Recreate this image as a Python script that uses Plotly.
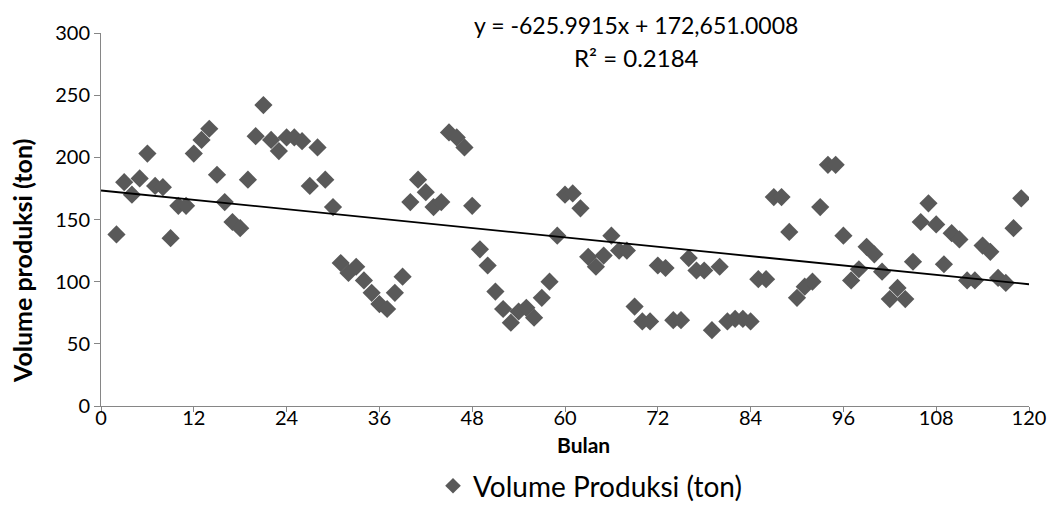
import numpy as np
import plotly.graph_objects as go

bulan = list(range(2, 120))
volume = [138, 180, 170, 183, 203, 177, 176, 135, 161, 161, 203, 214, 223, 186, 164, 148, 143, 182,
          217, 242, 214, 205, 216, 216, 213, 177, 208, 182, 160, 115, 107, 112, 101, 91, 82, 78, 91,
          104, 164, 182, 172, 160, 164, 220, 216, 208, 161, 126, 113, 92, 78, 67, 76, 79, 71, 87,
          100, 137, 170, 171, 159, 120, 112, 121, 137, 125, 125, 80, 68, 68, 113, 111, 69, 69, 119,
          109, 109, 61, 112, 68, 70, 70, 68, 102, 102, 168, 168, 140, 87, 96, 100, 160, 194, 194,
          137, 101, 110, 128, 122, 108, 86, 95, 86, 116, 148, 163, 146, 114, 139, 134, 101, 101,
          129, 124, 103, 99, 143, 167]
x_ticks = [0, 12, 24, 36, 48, 60, 72, 84, 96, 108, 120]
y_ticks = [0, 50, 100, 150, 200, 250, 300]
eq_line1 = "y = -625.9915x + 172,651.0008"
eq_line2 = "R² = 0.2184"

slope, intercept = np.polyfit(bulan, volume, 1)
trend_x = [0, 120]
trend_y = [intercept + slope * v for v in trend_x]

FONT = "Lato, 'Open Sans', sans-serif"

fig = go.Figure()
fig.add_trace(go.Scatter(
    x=bulan, y=volume, mode="markers", name="Volume Produksi (ton)",
    marker=dict(symbol="diamond", size=14, color="#595959"),
))
fig.add_trace(go.Scatter(
    x=trend_x, y=trend_y, mode="lines", showlegend=False,
    line=dict(color="black", width=1.8),
))

def ann(text, x, y, size, bold=False, angle=0):
    return dict(text=f"<b>{text}</b>" if bold else text, xref="paper", yref="paper",
                x=x, y=y, xanchor="center", yanchor="middle", showarrow=False,
                textangle=angle, font=dict(size=size, family=FONT, color="black"))

# paper coords: plot area x 101..1029, y 406..33
def px(xp):
    return (xp - 101) / 928.0

def py(yp):
    return (406 - yp) / 373.0

fig.update_layout(
    width=1054, height=515,
    margin=dict(l=101, r=25, t=33, b=109, autoexpand=False),
    paper_bgcolor="white", plot_bgcolor="white",
    font=dict(family=FONT, size=20, color="black"),
    showlegend=True,
    legend=dict(orientation="h", x=px(590), xanchor="center", y=py(486), yanchor="middle",
                font=dict(size=28), itemsizing="constant"),
    annotations=[
        ann(eq_line1, px(636), py(25), 23),
        ann(eq_line2, px(636), py(57), 24),
        ann("Bulan", px(583), py(444), 21, bold=True),
        ann("Volume produksi (ton)", px(22), py(261), 25, bold=True, angle=-90),
    ],
)
fig.update_xaxes(
    range=[0, 120], tickvals=x_ticks, ticktext=[str(v) for v in x_ticks],
    showgrid=False, zeroline=False, showline=True, linecolor="#868686", linewidth=1,
    ticks="outside", ticklen=5, tickcolor="#868686", ticklabelstandoff=-11,
)
fig.update_yaxes(
    range=[0, 300], tickvals=y_ticks, ticktext=[str(v) for v in y_ticks],
    showgrid=False, zeroline=False, showline=True, linecolor="#868686", linewidth=1,
    ticks="outside", ticklen=6, tickcolor="#868686",
)

fig.write_html("out.html")
